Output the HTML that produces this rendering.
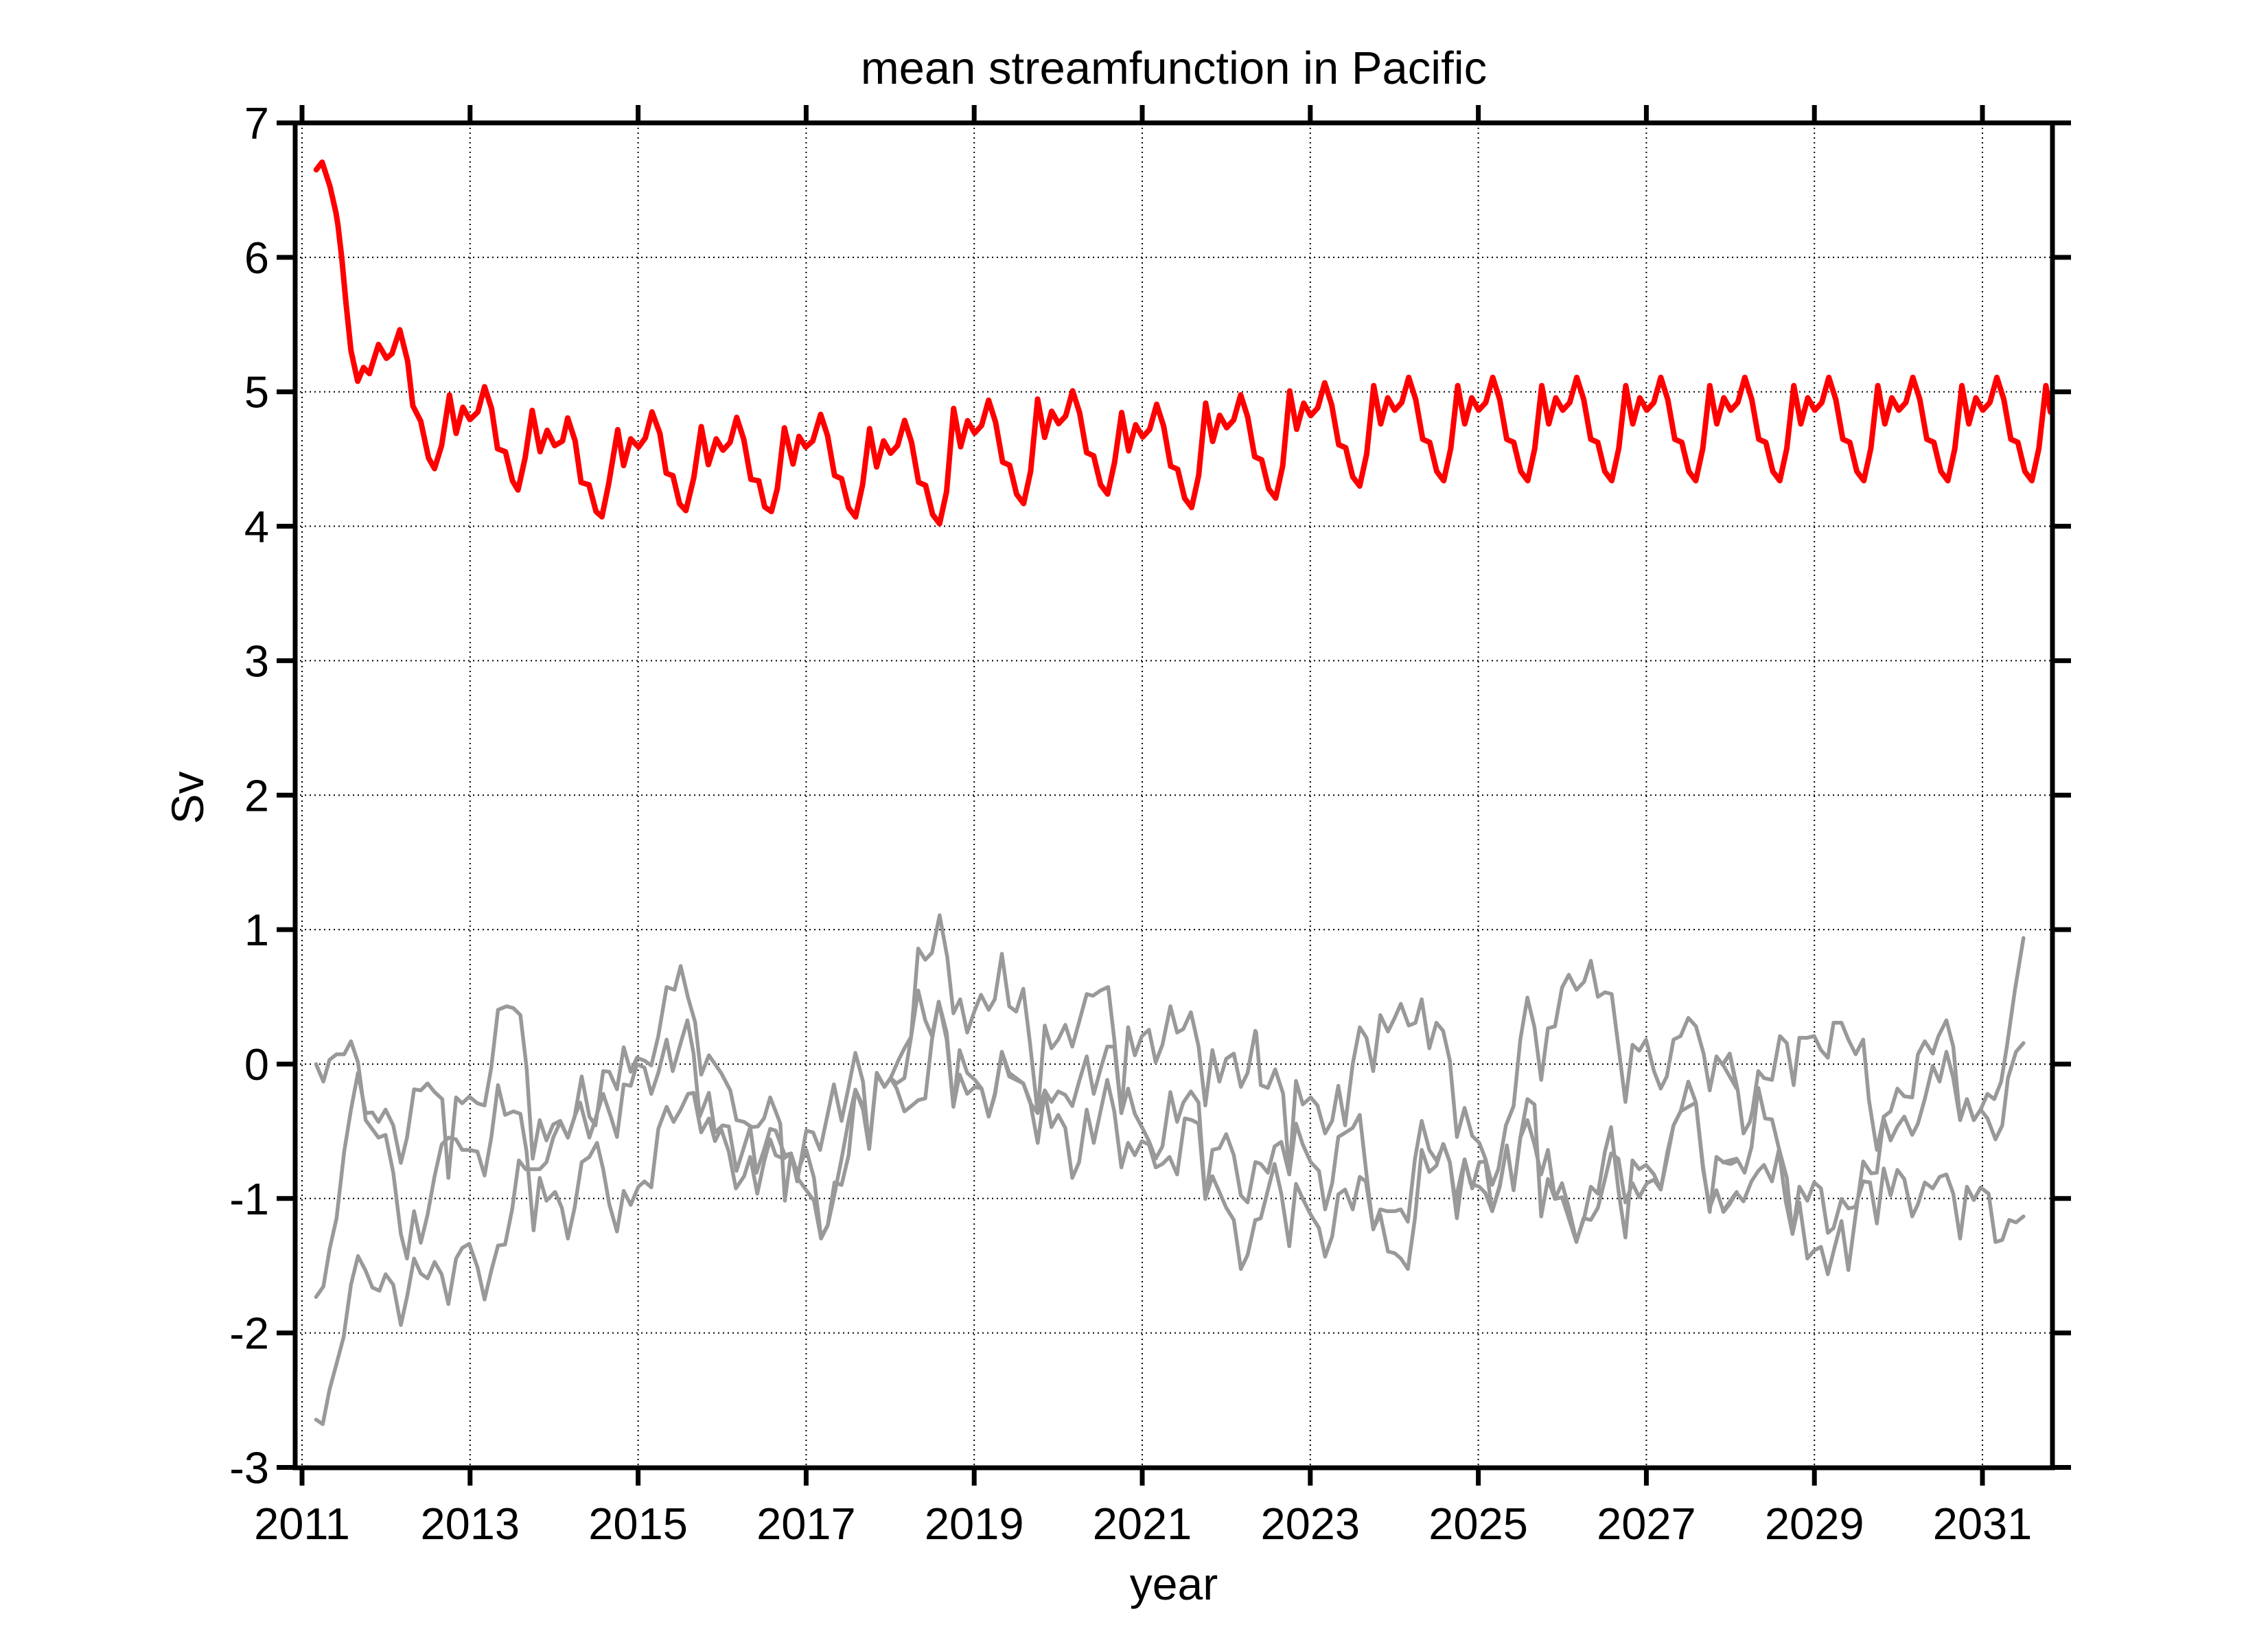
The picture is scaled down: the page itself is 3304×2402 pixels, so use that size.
<!DOCTYPE html>
<html><head><meta charset="utf-8">
<style>
html,body{margin:0;padding:0;background:#fff;}
svg{display:block;}
text{font-family:"Liberation Sans",Arial,sans-serif;fill:#000;}
</style></head>
<body>
<svg id="s" width="3304" height="2402" viewBox="0 0 3304 2402" xmlns="http://www.w3.org/2000/svg">
<rect width="3304" height="2402" fill="#fff"/>
<g id="grid" stroke="#000" stroke-width="2" stroke-dasharray="2,5"></g>
<g id="series" fill="none" stroke-linejoin="round" stroke-linecap="round"></g>
<g id="axes" stroke="#000" stroke-width="7" fill="none"></g>
<g id="labels" font-size="65"></g>
<text x="1710" y="122" font-size="67" text-anchor="middle">mean streamfunction in Pacific</text>
<text x="1710" y="2330" font-size="66" text-anchor="middle">year</text>
<text x="0" y="0" font-size="66" text-anchor="middle" transform="translate(296,1162) rotate(-90)">Sv</text>
</svg>
<script>
const NS="http://www.w3.org/2000/svg";
const L=430,R=2990,T=179,B=2138;
const X=y=>440+(y-2011)*122.4, Y=v=>179+(7-v)*195.85;
function el(parent,tag,attrs,txt){const e=document.createElementNS(NS,tag);for(const k in attrs)e.setAttribute(k,attrs[k]);if(txt!==undefined)e.textContent=txt;document.getElementById(parent).appendChild(e);return e;}
for(let v=-2;v<=6;v++){el('grid','line',{x1:L,x2:R,y1:Y(v),y2:Y(v)});}
for(let y=2011;y<=2031;y+=2){el('grid','line',{x1:X(y),x2:X(y),y1:T,y2:B});}
const Z=[[430,2.24,1.96],[1130,2.24,1.96],[1830,2.24,1.96],[2500,3.01,1.96]];
function conv(k,p){return p.map(q=>[Z[k][0]+q[0]/Z[k][1],1300+q[1]/Z[k][2]]);}
function path(pts,color,w){el('series','polyline',{points:pts.map(p=>p[0].toFixed(1)+','+p[1].toFixed(1)).join(' '),stroke:color,'stroke-width':w});}
const G1=conv(0,[[68,490],[92,540],[112,478],[135,462],[160,462],[182,425],[205,485],[230,650],[272,700],[295,692],[320,800],[345,975],[365,1045],[388,910],[410,1000],[432,920],[455,810],[478,720],[500,700],[525,705],[545,735],[570,735],[595,740],[618,808],[640,700],[662,550],[685,635],[712,625],[735,632],[755,740],[778,965],[798,815],[820,880],[848,855],[870,900],[890,988],[912,900],[935,770],[960,755],[985,715],[1005,790],[1025,890],[1050,968],[1072,852],[1095,892],[1120,840],[1140,825],[1162,842],[1185,675],[1212,612],[1235,655],[1258,620],[1282,575],[1300,572],[1325,685],[1350,645],[1370,710],[1390,675],[1415,740],[1438,845],[1465,810],[1485,755],[1508,860],[1530,770],[1550,705],[1568,750]])
.concat(conv(1,[[25,760],[50,745],[75,820],[100,850],[125,880],[148,988],[170,950],[192,828],[215,835],[238,750],[260,563],[285,620],[305,732],[330,520],[355,555],[375,530],[395,560],[420,625],[445,608],[465,593],[488,588],[510,420],[532,312],[558,400],[580,612],[600,520],[625,575],[650,555],[672,560],[695,640],[715,580],[738,455],[762,525],[785,535],[808,545],[830,595],[855,715],[878,570],[900,670],[922,635],[945,672],[968,815],[990,770],[1015,620],[1038,715],[1060,625],[1082,535],[1105,625],[1128,785],[1150,715],[1172,750],[1195,710],[1218,720],[1240,785],[1262,775],[1285,755],[1310,805],[1335,645],[1358,650],[1380,660],[1402,875],[1425,810],[1448,855],[1470,900],[1495,935],[1518,1075],[1540,1035],[1565,935]]))
.concat(conv(2,[[0,935],[15,930],[38,850],[60,775],[82,860],[108,1010],[130,832],[152,875],[178,920],[205,958],[225,1040],[248,982],[268,862],[290,848],[315,905],[338,812],[358,825],[382,960],[405,920],[430,1025],[452,1030],[472,1045],[495,1075],[518,930],[540,735],[565,798],[588,780],[610,718],[632,770],[650,880],[680,762],[700,832],[728,840],[748,858],[770,910],[795,840],[818,722],[840,850],[862,700],[885,650],[908,720],[930,805],[952,735],[975,875],[998,870],[1020,930],[1045,998],[1068,930],[1092,935],[1115,900],[1135,830],[1158,745],[1182,760],[1205,885],[1228,830],[1250,870],[1275,830],[1298,820],[1320,848],[1342,740],[1362,665],[1385,625],[1410,540],[1435,600],[1458,790],[1480,900],[1502,850],[1525,912],[1545,890],[1568,855]]))
.concat(conv(3,[[30,910],[60,885],[90,858],[120,882],[155,825],[185,795],[210,778],[245,825],[275,735],[305,880],[335,975],[365,840],[400,880],[430,828],[460,845],[490,972],[515,958],[550,875],[580,902],[610,898],[645,825],[675,828],[705,945],[735,788],[765,865],[795,792],[825,818],[860,925],[885,890],[915,828],[950,845],[980,812],[1010,805],[1040,860],[1070,988],[1100,840],[1130,878],[1160,842],[1195,860],[1225,998],[1255,992],[1285,935],[1315,942],[1348,925]]));
const G2=conv(0,[[68,1155],[92,1125],[112,1020],[135,930],[160,740],[182,620],[205,515],[230,630],[252,628],[272,655],[295,620],[320,665],[345,772],[365,700],[388,562],[410,565],[432,545],[455,570],[480,590],[500,815],[525,585],[545,602],[568,583],[595,602],[618,608],[640,500],[662,335],[690,325],[712,330],[735,350],[755,500],[775,760],[798,650],[820,708],[842,662],[865,652],[890,700],[912,640],[935,525],[960,640],[980,665],[1005,510],[1025,512],[1050,562],[1072,442],[1095,512],[1115,472],[1140,480],[1162,494],[1185,410],[1212,270],[1238,278],[1258,210],[1282,300],[1305,370],[1325,520],[1350,465],[1390,515],[1420,565],[1440,650],[1465,655],[1490,670],[1510,668],[1530,645],[1550,585],[1568,625]])
.concat(conv(1,[[15,660],[30,880],[50,745],[70,825],[100,680],[122,685],[145,735],[168,640],[190,548],[215,652],[238,555],[260,458],[285,540],[305,732],[330,515],[355,555],[375,530],[395,545],[420,530],[442,412],[465,160],[488,192],[510,172],[535,65],[560,185],[580,345],[602,305],[625,400],[648,340],[670,292],[695,335],[715,305],[738,175],[762,325],[785,340],[808,275],[830,430],[855,630],[878,380],[900,445],[922,420],[945,378],[968,440],[990,370],[1015,290],[1035,295],[1060,280],[1085,270],[1105,420],[1128,630],[1150,385],[1172,465],[1195,410],[1218,392],[1240,485],[1262,435],[1288,325],[1310,400],[1330,390],[1355,342],[1380,440],[1402,608],[1425,450],[1448,540],[1470,475],[1495,460],[1518,555],[1540,515],[1565,395]]))
.concat(conv(2,[[0,400],[15,550],[38,558],[62,505],[88,575],[108,805],[130,538],[152,605],[178,585],[200,608],[225,688],[248,652],[268,552],[290,665],[315,490],[338,385],[360,415],[382,510],[405,350],[430,397],[452,358],[472,318],[498,380],[520,372],[540,305],[565,445],[588,372],[610,395],[632,480],[655,698],[680,615],[705,695],[728,715],[748,760],[770,835],[790,790],[815,665],[840,610],[862,420],[885,300],[908,385],[930,535],[952,388],[975,382],[998,272],[1020,235],[1045,278],[1070,255],[1092,195],[1115,298],[1138,285],[1160,290],[1182,440],[1205,598],[1228,435],[1250,452],[1272,420],[1298,510],[1320,560],[1340,525],[1362,420],[1385,410],[1410,358],[1435,382],[1460,460],[1480,565],[1502,468],[1522,492],[1545,460],[1568,560]]))
.concat(conv(3,[[30,492],[60,460],[95,565],[120,688],[148,655],[160,620],[185,510],[210,530],[245,535],[280,410],[310,430],[340,550],[365,415],[400,415],[430,410],[460,450],[490,472],[515,372],[550,372],[580,420],[612,462],[645,420],[670,592],[705,735],[735,640],[765,625],[795,560],[825,582],[860,585],[885,462],[915,425],[950,460],[975,410],[1010,365],[1040,440],[1070,650],[1100,590],[1130,650],[1160,620],[1190,575],[1220,590],[1250,540],[1275,440],[1310,280],[1348,130]]));
const G3=conv(0,[[68,1505],[90,1518],[112,1420],[135,1345],[158,1270],[182,1120],[205,1038],[230,1080],[252,1128],[275,1137],[295,1090],[320,1120],[345,1235],[365,1155],[388,1045],[410,1088],[432,1102],[455,1055],[478,1090],[500,1175],[525,1045],[545,1015],[568,1003],[595,1070],[618,1162],[640,1080],[662,1008],[685,1005],[708,905],[730,765],[752,790],[798,790],[820,770],[842,700],[865,655],[890,700],[912,640],[930,600],[960,700],[975,660],[1005,575],[1030,640],[1050,698],[1072,548],[1095,552],[1115,490],[1140,500],[1162,575],[1185,515],[1212,420],[1232,510],[1258,430],[1280,365],[1300,460],[1320,640],[1350,572],[1370,685],[1395,665],[1415,668],[1440,795],[1460,740],[1485,670],[1505,800],[1530,735],[1550,675],[1568,680]])
.concat(conv(1,[[30,750],[50,745],[70,800],[100,735],[125,815],[148,985],[170,950],[190,870],[215,760],[238,650],[260,563],[285,610],[305,730],[330,515],[355,555],[375,530],[400,480],[420,445],[442,412],[465,280],[488,365],[510,410],[532,312],[558,420],[580,610],[600,450],[625,515],[650,535],[672,560],[695,640],[715,575],[738,455],[762,515],[785,530],[808,545],[830,600],[855,630],[878,565],[900,598],[922,568],[945,578],[968,610],[990,540],[1015,468],[1038,575],[1060,505],[1082,440],[1105,440],[1128,630],[1150,560],[1172,632],[1195,670],[1218,710],[1240,760],[1262,725],[1288,570],[1310,655],[1330,600],[1355,568],[1380,600],[1402,875],[1425,735],[1448,730],[1470,690],[1495,750],[1518,865],[1540,885],[1565,770]]))
.concat(conv(2,[[0,770],[15,775],[38,800],[60,725],[82,712],[108,805],[130,660],[152,720],[178,770],[205,795],[225,905],[248,830],[268,698],[292,685],[315,672],[338,635],[360,805],[382,962],[405,905],[428,910],[452,910],[472,905],[495,940],[518,760],[540,652],[565,735],[588,765],[612,720],[632,770],[655,930],[680,762],[705,845],[728,770],[748,768],[770,910],[795,835],[818,725],[840,850],[862,700],[885,590],[908,605],[930,925],[952,818],[975,875],[998,830],[1020,900],[1045,995],[1070,930],[1092,840],[1115,860],[1138,740],[1158,670],[1182,850],[1205,985],[1228,765],[1250,790],[1272,778],[1298,805],[1320,848],[1342,755],[1362,665],[1385,625],[1410,612],[1435,600],[1458,780],[1480,912],[1502,755],[1525,770],[1545,775],[1568,760]]))
.concat(conv(3,[[30,770],[65,775],[95,765],[125,800],[155,728],[185,558],[215,645],[245,648],[275,730],[310,815],[335,975],[365,885],[400,1045],[430,1022],[460,1012],[490,1090],[520,1012],[550,938],[580,1078],[612,920],[645,768],[680,802],[705,800],[735,645],[765,708],[795,668],[825,640],[860,692],[885,660],[915,590],[950,495],[980,540],[1010,455],[1040,530],[1070,650],[1100,590],[1130,650],[1160,620],[1190,645],[1225,705],[1255,665],[1280,530],[1315,455],[1348,430]]));
const gc="#999999";
path(G1,gc,5.5);path(G2,gc,5.5);path(G3,gc,5.5);
const early=[[280,330],[295,305],[315,385],[330,470],[335,510],[345,620],[355,760],[368,920],[385,1020],[400,975],[415,995],[438,900],[458,945],[472,930],[492,852],[512,955],[525,1100],[545,1150],[565,1270],[580,1305],[598,1230],[618,1065],[635,1190],[652,1105],[670,1145],[690,1120],[707,1038],[725,1110],[740,1240],[760,1250],[778,1345],[792,1375],[810,1270],[828,1115],[848,1250],[866,1180],[885,1230],[905,1215],[918,1140],[937,1215],[952,1350],[972,1358],[990,1445],[1005,1462],[1022,1355],[1045,1178],[1060,1295],[1078,1208],[1098,1235],[1115,1205],[1132,1120],[1152,1190],[1168,1320],[1185,1328],[1202,1420],[1218,1442],[1238,1335],[1257,1168],[1275,1292],[1295,1208],[1312,1245],[1330,1220],[1347,1138],[1365,1210],[1383,1340],[1403,1345],[1418,1430],[1435,1445],[1450,1370],[1468,1172],[1490,1290],[1505,1200],[1522,1235],[1540,1215],[1560,1128]].map(p=>[300+p[0]/1.742,100+p[1]/2.24]);
const pat=[4.976,4.691,4.885,4.793,4.850,5.037,4.873,4.577,4.554,4.338,4.269,4.508];
const off={2015:-0.2,2016:-0.2,2017:-0.25,2018:-0.1,2019:-0.03,2020:-0.13,2021:-0.06,2022:0.03};
const red=early.slice();
const lastX=red[red.length-1][0];
for(let Yr=2015;Yr<=2031;Yr++){for(let k=0;k<12;k++){const t=Yr+0.755+k/12;if(t>2031.8)break;const x=X(t);if(x<=lastX+2)continue;const o=(off[Yr]!==undefined)?off[Yr]:0.07;red.push([x,Y(pat[k]+o)]);}}
red.push([R-3,Y(4.85)]);
path(red,"#ff0000",8);
el('axes','rect',{x:L,y:T,width:R-L,height:B-T});
for(let v=-3;v<=7;v++){const y=Y(v);el('axes','line',{x1:L-27,x2:L,y1:y,y2:y});el('axes','line',{x1:R,x2:R+27,y1:y,y2:y});
el('labels','text',{x:392,y:y+23,'text-anchor':'end'},String(v));}
for(let yr=2011;yr<=2031;yr+=2){const x=X(yr);el('axes','line',{x1:x,x2:x,y1:B,y2:B+26});el('axes','line',{x1:x,x2:x,y1:T-26,y2:T});
el('labels','text',{x:x,y:2242,'text-anchor':'middle'},String(yr));}
</script>
</body></html>
